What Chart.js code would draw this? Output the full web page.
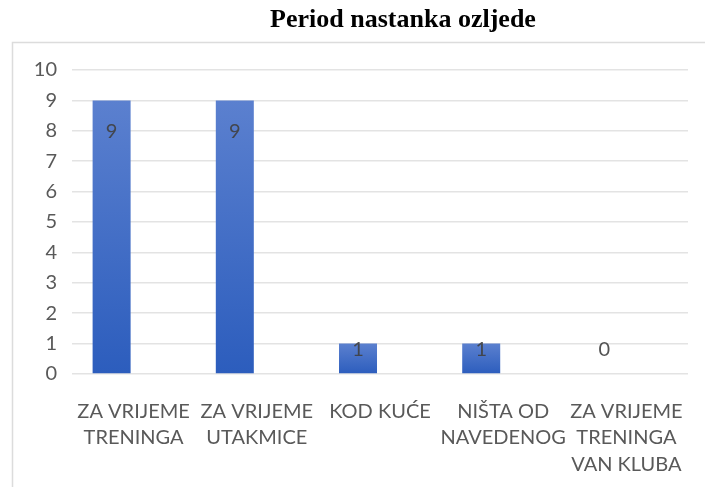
<!DOCTYPE html>
<html>
<head>
<meta charset="utf-8">
<script src="https://cdn.jsdelivr.net/npm/chart.js@4/dist/chart.umd.min.js"></script>
<style>
  body { margin: 0; background: #fff; }
  canvas { display: block; }
</style>
</head>
<body>
<canvas id="chart" width="705" height="487"></canvas>
<script>
const chartTitle = 'Period nastanka ozljede';
const categories = [
  ['ZA VRIJEME', 'TRENINGA'],
  ['ZA VRIJEME', 'UTAKMICE'],
  'KOD KUĆE',
  ['NIŠTA OD', 'NAVEDENOG'],
  ['ZA VRIJEME', 'TRENINGA', 'VAN KLUBA']
];
const counts = [9, 9, 1, 1, 0];
const emptySeries = [null, null, null, null, null];
const yMax = 10;
const yStep = 1;

Chart.defaults.font.family = 'Lato, "Open Sans", sans-serif';

// per-bar vertical gradient, lighter at the top
function barFill(context) {
  const chart = context.chart;
  if (!chart.chartArea || context.raw == null) return '#3a66c4';
  const y = chart.scales.y;
  const top = y.getPixelForValue(context.raw);
  const base = y.getPixelForValue(0);
  if (!isFinite(top) || top === base) return '#3a66c4';
  const g = chart.ctx.createLinearGradient(0, top, 0, base);
  g.addColorStop(0, '#5b80cf');
  g.addColorStop(1, '#2c5dbd');
  return g;
}

// frame and title drawn around the plot
const framePlugin = {
  id: 'frame',
  beforeDraw(chart) {
    const ctx = chart.ctx;
    ctx.save();
    ctx.strokeStyle = '#dcdcdc';
    ctx.lineWidth = 1.5;
    ctx.strokeRect(12.5, 42.5, 800, 600);
    ctx.fillStyle = '#000';
    ctx.font = 'bold 26px "Liberation Serif", "Times New Roman", serif';
    ctx.textAlign = 'center';
    ctx.textBaseline = 'middle';
    ctx.fillText(chartTitle, 403, 20);
    ctx.restore();
  }
};

// value labels near the top of each bar
const valueLabels = {
  id: 'valueLabels',
  afterDatasetsDraw(chart) {
    const ctx = chart.ctx;
    const meta = chart.getDatasetMeta(0);
    const zero = chart.scales.y.getPixelForValue(0);
    ctx.save();
    ctx.font = '20px Lato, sans-serif';
    ctx.fillStyle = 'rgba(64,64,64,0.9)';
    ctx.textAlign = 'center';
    ctx.textBaseline = 'middle';
    meta.data.forEach((bar, i) => {
      const y = Math.min(bar.y + 31, zero - 24);
      ctx.fillText(String(counts[i]), bar.x, y);
    });
    ctx.restore();
  }
};

new Chart(document.getElementById('chart'), {
  type: 'bar',
  data: {
    labels: categories,
    datasets: [
      {
        label: 'Broj',
        data: counts,
        backgroundColor: barFill,
        borderWidth: 0,
        categoryPercentage: 0.714,
        barPercentage: 0.864
      },
      {
        label: '',
        data: emptySeries,
        backgroundColor: 'transparent',
        categoryPercentage: 0.714,
        barPercentage: 0.864
      }
    ]
  },
  options: {
    responsive: false,
    animation: false,
    layout: { padding: { top: 70, right: 17, left: 0, bottom: 0 } },
    plugins: {
      legend: { display: false },
      title: { display: false },
      tooltip: { enabled: false }
    },
    scales: {
      x: {
        grid: { display: false },
        border: { display: false },
        ticks: {
          color: '#595959',
          font: { size: 20, lineHeight: 1.33 },
          padding: 16,
          autoSkip: false,
          maxRotation: 0,
          minRotation: 0
        },
        afterFit(scale) { scale.height = 113; }
      },
      y: {
        min: 0,
        max: yMax,
        grid: { color: '#e3e3e3', lineWidth: 1.5, drawTicks: false },
        border: { display: false },
        ticks: {
          stepSize: yStep,
          color: '#595959',
          font: { size: 20 },
          padding: 15
        },
        afterFit(scale) { scale.width = 72; }
      }
    }
  },
  plugins: [framePlugin, valueLabels]
});
</script>
</body>
</html>
